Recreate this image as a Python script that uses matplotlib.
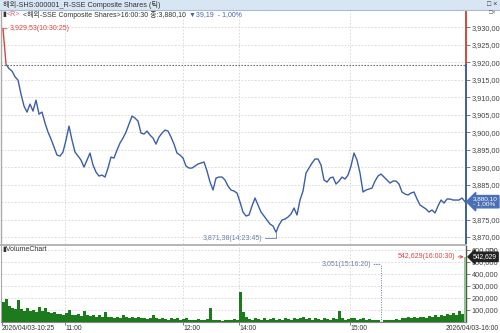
import numpy as np
import matplotlib
matplotlib.use('Agg')
import matplotlib.pyplot as plt
from matplotlib.patches import Rectangle
from matplotlib.lines import Line2D
import matplotlib.transforms as mtransforms

plt.rcParams['font.family'] = ['Liberation Sans', 'Noto Sans CJK KR', 'DejaVu Sans']

# ---------------- data ----------------
price = [3929.53, 3919.43, 3918.14, 3917.43, 3915.80, 3914.86, 3910.86, 3907.43, 3905.71, 3908.00,
         3906.00, 3909.14, 3905.14, 3905.71, 3902.57, 3900.00, 3898.00, 3895.71, 3893.43, 3893.14,
         3894.29, 3897.71, 3901.71, 3897.71, 3894.29, 3893.14, 3892.00, 3890.00, 3892.00, 3894.00,
         3890.57, 3888.57, 3887.43, 3887.71, 3887.14, 3889.71, 3892.86, 3892.57, 3894.86, 3896.86,
         3898.29, 3900.00, 3902.29, 3904.57, 3904.00, 3903.14, 3899.71, 3899.43, 3900.29, 3899.14,
         3898.29, 3896.57, 3898.57, 3899.71, 3900.57, 3900.29, 3898.57, 3896.57, 3894.00, 3893.43,
         3892.57, 3890.29, 3889.71, 3889.71, 3890.29, 3890.86, 3891.14, 3891.43, 3888.86, 3885.71,
         3883.43, 3886.86, 3887.14, 3887.14, 3886.29, 3884.57, 3883.43, 3883.14, 3882.57, 3880.00,
         3877.14, 3876.00, 3876.29, 3878.86, 3881.14, 3879.14, 3877.14, 3876.00, 3874.86, 3873.71,
         3873.14, 3871.38, 3873.43, 3874.86, 3875.14, 3875.71, 3876.57, 3878.29, 3876.29, 3880.57,
         3883.14, 3888.29, 3889.71, 3891.14, 3892.29, 3892.29, 3890.57, 3886.29, 3885.71, 3886.86,
         3887.14, 3885.14, 3886.00, 3887.14, 3886.57, 3887.71, 3890.29, 3894.00, 3892.00, 3888.29,
         3882.86, 3883.43, 3883.71, 3884.00, 3886.00, 3887.43, 3888.00, 3887.14, 3886.29, 3885.43,
         3886.00, 3886.00, 3885.14, 3882.86, 3882.29, 3882.00, 3882.57, 3882.86, 3880.86, 3879.14,
         3878.57, 3878.00, 3877.14, 3877.71, 3876.86, 3878.86, 3880.57, 3879.71, 3880.86, 3880.86,
         3880.57, 3880.57, 3880.57, 3881.14, 3880.10]

volume = [165000, 190000, 130000, 120000, 105000, 185000, 110000, 95000, 120000, 90000,
          100000, 85000, 125000, 90000, 115000, 80000, 75000, 85000, 65000, 70000,
          60000, 75000, 100000, 60000, 55000, 65000, 50000, 90000, 55000, 50000,
          60000, 45000, 55000, 40000, 85000, 45000, 40000, 35000, 45000, 30000,
          55000, 40000, 35000, 45000, 30000, 40000, 35000, 30000, 25000, 30000,
          60000, 30000, 25000, 35000, 25000, 20000, 30000, 25000, 35000, 20000,
          25000, 30000, 20000, 15000, 20000, 25000, 15000, 20000, 25000, 115000,
          20000, 15000, 20000, 10000, 15000, 20000, 15000, 25000, 20000, 250000,
          80000, 40000, 25000, 20000, 30000, 25000, 15000, 30000, 20000, 25000,
          35000, 20000, 25000, 15000, 30000, 25000, 20000, 35000, 25000, 30000,
          40000, 25000, 35000, 20000, 30000, 25000, 20000, 35000, 25000, 20000,
          30000, 25000, 90000, 30000, 20000, 25000, 35000, 30000, 20000, 25000,
          30000, 20000, 25000, 15000, 20000, 15000, 3051, 15000, 20000, 15000,
          20000, 25000, 20000, 35000, 30000, 45000, 35000, 40000, 30000, 45000,
          40000, 35000, 50000, 45000, 55000, 40000, 60000, 50000, 65000, 55000,
          75000, 60000, 90000, 70000, 542629]

prev_close = 3919.29
price_ticks = [3870, 3875, 3880, 3885, 3890, 3895, 3900, 3905, 3910, 3915, 3920, 3925, 3930]
vol_ticks = [100000, 200000, 300000, 400000, 500000, 600000]
time_tick_pos = [-0.4, 20.7, 60.0, 78.7, 115.7]
time_tick_labels = ['2026/04/03-10:25', '11:00', '12:00', '14:00', '15:00']
end_label = '2026/04/03-16:00'
title_text = '해외-SHS:000001_R-SSE Composite Shares (틱)'
info_parts = [('▮', '#333333'), ('<R>', '#e0607a'),
              (' <해외-SSE Composite Shares>16:00:30 종:3,880,10 ', '#333333'),
              ('▼39,19  - 1,00%', '#4a62b0')]
max_label = '3,929,53(10:30:25)'
min_label = '3,871,38(14:23:45)'
vmax_label = '542,629(16:00:30)'
vmin_label = '3,051(15:16:20)'
last_label = '3,880,10\n- 1,00%'
last_vol_label = '542,629'

# ---------------- style ----------------
BLUE = '#3b5ea6'
RED = '#d9443f'
GRID = '#d4d4d4'
TXT = '#444444'
W, H = 500, 333

fig = plt.figure(figsize=(5, 3.33), dpi=100)
fig.patch.set_facecolor('white')

def fx(px):
    return px / W

def fy(py):
    return 1 - py / H

# title bar
fig.patches.append(Rectangle((0, fy(9.5)), 1, 9.5 / H, transform=fig.transFigure,
                             facecolor='#d8e5f2', edgecolor='none', zorder=0))
fig.lines.append(Line2D([0, 1], [fy(9.5), fy(9.5)], transform=fig.transFigure,
                        color='#a8bdd4', lw=0.8))
fig.text(fx(3), fy(5), title_text, fontsize=5.2, color='#333333', va='center', ha='left')
fig.text(fx(497), fy(4.5), '□ ×', fontsize=5, color='#333333', va='center', ha='right')

xs = np.arange(len(price))
xlo, xhi = -0.67, len(price) - 0.67

# main price axes
ax = fig.add_axes([fx(1), fy(244), fx(465), 234 / H])
ylo, yhi = 3868.0, 3934.9
ax.set_xlim(xlo, xhi)
ax.set_ylim(ylo, yhi)
for s in ['top', 'bottom', 'right']:
    ax.spines[s].set_visible(False)
ax.spines['left'].set_color('#aaaaaa')
ax.spines['left'].set_linewidth(1.0)

ax.set_yticks(price_ticks)
last_rounded = round(price[-1] / 5) * 5
ax.set_yticklabels(['' if v == last_rounded else f'{v:,.2f}'.replace('.', ',')
                    for v in price_ticks])
ax.yaxis.tick_right()
ax.tick_params(axis='y', length=3, width=0.6, color='#666666', labelsize=5.3,
               labelcolor=TXT, pad=1)
ax.set_xticks(time_tick_pos[1:])
ax.tick_params(axis='x', length=0, labelbottom=False)
ax.grid(True, color=GRID, lw=0.6, ls=(0, (2, 2)))

ax.axhline(prev_close, color='#555555', lw=0.8, ls=(0, (1.2, 1.5)), zorder=2)

line_b, = ax.plot(xs, price, color=BLUE, lw=1.0, zorder=3)
line_r, = ax.plot(xs, price, color=RED, lw=1.0, zorder=3)
clip_top = Rectangle((xlo, prev_close), xhi - xlo, 200, transform=ax.transData)
clip_bot = Rectangle((xlo, prev_close - 200), xhi - xlo, 200, transform=ax.transData)
line_r.set_clip_path(clip_top)
line_b.set_clip_path(clip_bot)

frac = (prev_close - ylo) / (yhi - ylo)
ax.axvline(xhi, ymin=frac, ymax=1, color=RED, lw=1.4, clip_on=False)
ax.axvline(xhi, ymin=0, ymax=frac, color=BLUE, lw=1.4, clip_on=False)

imax = int(np.argmax(price))
imin = int(np.argmin(price))
ax.annotate(max_label, xy=(xs[imax], price[imax]), xytext=(5, 0), textcoords='offset points',
            ha='left', va='center', fontsize=5.0, color=RED,
            arrowprops=dict(arrowstyle='-', color=RED, lw=0.6, shrinkA=0, shrinkB=0))
ax.annotate(min_label, xy=(xs[imin], price[imin]), xytext=(-10, -4.5), textcoords='offset points',
            ha='right', va='center', fontsize=5.0, color='#6b7fa6',
            arrowprops=dict(arrowstyle='-', color='#6b7fa6', lw=0.6, shrinkA=0, shrinkB=0,
                            connectionstyle='angle,angleA=0,angleB=90,rad=0'))

blend = mtransforms.blended_transform_factory(ax.transAxes, ax.transData)
ax.annotate(last_label, xy=(1.0, price[-1]), xycoords=blend, xytext=(5, 0),
            textcoords='offset points', ha='left', va='center', fontsize=4.6, color='white',
            linespacing=1.0, annotation_clip=False, zorder=10,
            bbox=dict(boxstyle='larrow,pad=0.18', fc='#4a6fb5', ec='#4a6fb5'))

fig.text(fx(496), fy(13), '□×', fontsize=4.5, color='#555555', va='center', ha='right')

# info line
fig.canvas.draw()
renderer = fig.canvas.get_renderer()
cur = fx(2)
for txt, col in info_parts:
    t = fig.text(cur, fy(14.5), txt, fontsize=5.0, color=col, va='center', ha='left')
    bb = t.get_window_extent(renderer=renderer)
    cur = fig.transFigure.inverted().transform((bb.x1 + 1, 0))[0]

# divider
fig.lines.append(Line2D([0, fx(466)], [fy(245), fy(245)], transform=fig.transFigure,
                        color='#b5b5b5', lw=1.4))

# volume axes
ax2 = fig.add_axes([fx(1), fy(322), fx(465), 76 / H])
ax2.set_xlim(xlo, xhi)
ax2.set_ylim(0, 633000)
ax2.spines['top'].set_visible(False)
ax2.spines['left'].set_color('#aaaaaa')
ax2.spines['right'].set_color('#555555')
ax2.spines['right'].set_linewidth(1.0)
ax2.spines['bottom'].set_color('#888888')
ax2.spines['bottom'].set_linewidth(0.8)

colors = ['#1d7a1d'] * (len(volume) - 1) + ['#8fc78f']
ax2.bar(xs, volume, width=1.0, color=colors, linewidth=0, zorder=3)

ax2.set_yticks(vol_ticks)
ax2.set_yticklabels([f'{v:,}' for v in vol_ticks])
ax2.yaxis.tick_right()
ax2.tick_params(axis='y', length=3, width=0.6, color='#666666', labelsize=5.3,
                labelcolor=TXT, pad=1)
ax2.set_xticks(time_tick_pos)
ax2.set_xticklabels(time_tick_labels)
for lab in ax2.get_xticklabels():
    lab.set_ha('left')
ax2.tick_params(axis='x', length=2.5, width=0.6, color='#666666', labelsize=4.9,
                labelcolor='#333333', pad=0)
ax2.grid(True, color=GRID, lw=0.6, ls=(0, (2, 2)))
ax2.xaxis.get_gridlines()[0].set_visible(False)

fig.text(fx(499), fy(328), end_label, fontsize=4.9, color='#333333', ha='right', va='center')
fig.text(fx(2), fy(250), '▮VolumeChart', fontsize=5.0, color='#333333', ha='left', va='center')
fig.text(fx(496), fy(250), '□×', fontsize=4.5, color='#555555', va='center', ha='right')

ivmax = int(np.argmax(volume))
ivmin = int(np.argmin(volume))
ax2.annotate(vmax_label, xy=(xs[ivmax], volume[ivmax]), xytext=(-7, 0), textcoords='offset points',
             ha='right', va='center', fontsize=5.0, color=RED,
             arrowprops=dict(arrowstyle='->', color=RED, lw=0.6, shrinkA=0, shrinkB=1))
ax2.vlines(xs[ivmin], 0, 480000, colors='#6b7fa6', linestyles=(0, (1, 1.5)), lw=0.7, zorder=4)
ax2.annotate(vmin_label, xy=(xs[ivmin], 480000), xytext=(-7, 0), textcoords='offset points',
             ha='right', va='center', fontsize=5.0, color='#6b7fa6',
             arrowprops=dict(arrowstyle='-', color='#6b7fa6', lw=0.7, ls=(0, (1, 1.5)),
                             shrinkA=0, shrinkB=0))
blend2 = mtransforms.blended_transform_factory(ax2.transAxes, ax2.transData)
ax2.annotate(last_vol_label, xy=(1.0, volume[-1]), xycoords=blend2, xytext=(5, 0),
             textcoords='offset points', ha='left', va='center', fontsize=4.8, color='white',
             annotation_clip=False, zorder=10,
             bbox=dict(boxstyle='larrow,pad=0.18', fc='#222222', ec='#222222'))

fig.savefig('out.png', dpi=100)
